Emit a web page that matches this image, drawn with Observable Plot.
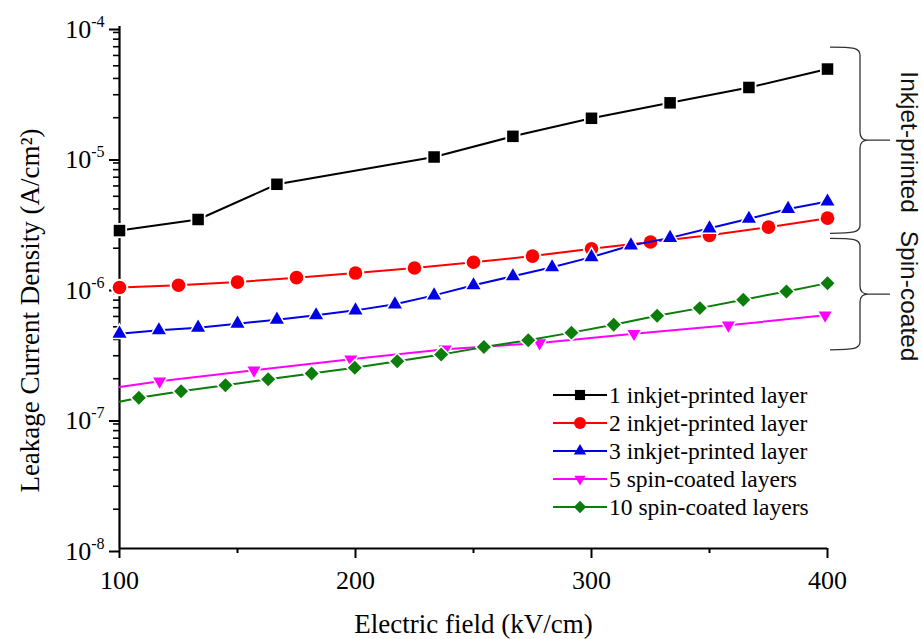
<!DOCTYPE html>
<html>
<head>
<meta charset="utf-8">
<script src="https://cdn.jsdelivr.net/npm/d3@7"></script>
<script src="https://cdn.jsdelivr.net/npm/@observablehq/plot@0.6"></script>
<style>
html, body { margin: 0; padding: 0; background: #fff; }
#chart svg { display: block; }
</style>
</head>
<body>
<div id="chart"></div>
<script>
// ---------- data ----------
const seriesNames = [
  "1 inkjet-printed layer",
  "2 inkjet-printed layer",
  "3 inkjet-printed layer",
  "5 spin-coated layers",
  "10 spin-coated layers"
];

const field1 = [100, 133.3, 166.7, 233.3, 266.7, 300, 333.3, 366.7, 400];
const current1 = [2.73e-6, 3.32e-6, 6.18e-6, 1.0e-5, 1.44e-5, 1.98e-5, 2.6e-5, 3.41e-5, 4.72e-5];

const field2 = [100, 125, 150, 175, 200, 225, 250, 275, 300, 325, 350, 375, 400];
const current2 = [1.0e-6, 1.04e-6, 1.10e-6, 1.19e-6, 1.29e-6, 1.41e-6, 1.56e-6, 1.74e-6, 1.98e-6, 2.23e-6, 2.51e-6, 2.90e-6, 3.40e-6];

const field3 = [100, 116.7, 133.3, 150, 166.7, 183.3, 200, 216.7, 233.3, 250, 266.7, 283.3, 300, 316.7, 333.3, 350, 366.7, 383.3, 400];
const current3 = [4.43e-7, 4.70e-7, 4.92e-7, 5.28e-7, 5.67e-7, 6.12e-7, 6.68e-7, 7.43e-7, 8.7e-7, 1.04e-6, 1.22e-6, 1.43e-6, 1.71e-6, 2.10e-6, 2.40e-6, 2.84e-6, 3.36e-6, 4.0e-6, 4.56e-6];

const field5 = [100, 117, 157, 198, 238, 278, 318, 358, 399];
const current5 = [1.73e-7, 1.91e-7, 2.32e-7, 2.82e-7, 3.36e-7, 3.76e-7, 4.43e-7, 5.13e-7, 6.12e-7];

const field10 = [100, 108.2, 126.1, 144.9, 163.0, 181.4, 199.7, 217.7, 236.3, 254.4, 273.2, 291.5, 309.4, 327.8, 345.9, 364.3, 382.6, 400];
const current10 = [1.33e-7, 1.43e-7, 1.60e-7, 1.78e-7, 1.98e-7, 2.19e-7, 2.43e-7, 2.72e-7, 3.06e-7, 3.50e-7, 3.94e-7, 4.51e-7, 5.19e-7, 6.07e-7, 6.95e-7, 8.07e-7, 9.33e-7, 1.08e-6];

const xTicks = [100, 200, 300, 400];
const xMinorTicks = [150, 250, 350];
const yTicks = [1e-8, 1e-7, 1e-6, 1e-5, 1e-4];
const minorMultipliers = [2, 3, 4, 5, 6, 7, 8, 9];

const xLabel = "Electric field (kV/cm)";
const yLabel = "Leakage Current Density (A/cm²)";

const braceLabels = ["Inkjet-printed", "Spin-coated"];
const braceTop = [6.9e-5, 2.36e-6];
const braceBottom = [2.58e-6, 3.3e-7];

// ---------- styles ----------
const seriesX = [field1, field2, field3, field5, field10];
const seriesY = [current1, current2, current3, current5, current10];
const colors = ["#000000", "#ff0000", "#0000e6", "#ff00ff", "#0a7d0a"];
const symbols = ["square", "circle", "triangle", "triangle", "diamond2"];
const rotations = [0, 0, 0, 180, 0];
const radii = [6.5, 6.8, 5.2, 4.8, 6.3];
const firstMarker = [0, 0, 0, 1, 1];

const rows = seriesNames.flatMap((name, si) =>
  seriesX[si].map((x, i) => ({ name, si, i, x, y: seriesY[si][i] }))
);
const yMinor = yTicks.slice(0, -1).flatMap(d => minorMultipliers.map(m => d * m));

const symbolTypes = {
  square: d3.symbolSquare, circle: d3.symbolCircle,
  triangle: d3.symbolTriangle, diamond2: d3.symbolDiamond2
};

// ---------- custom marks ----------
function legendMark(index, scales, values, dim) {
  const g = d3.create("svg:g");
  const x0 = dim.width - dim.marginRight - 274;
  const y0 = dim.height - dim.marginBottom - 153;
  seriesNames.forEach((name, k) => {
    const yy = y0 + k * 28;
    g.append("line").attr("x1", x0).attr("x2", x0 + 54).attr("y1", yy).attr("y2", yy)
      .attr("stroke", colors[k]).attr("stroke-width", 2);
    const r = radii[k] * 0.88;
    g.append("path")
      .attr("d", d3.symbol(symbolTypes[symbols[k]], Math.PI * r * r)())
      .attr("transform", `translate(${x0 + 27},${yy}) rotate(${rotations[k]})`)
      .attr("fill", colors[k]);
    g.append("text").attr("x", x0 + 56).attr("y", yy).attr("dy", "0.34em")
      .attr("text-anchor", "start")
      .attr("font-size", 23.5).attr("fill", "#000").text(name);
  });
  return g.node();
}

function braceMark(index, scales, values, dim) {
  const g = d3.create("svg:g");
  const right = dim.width - dim.marginRight;
  const x0 = right + 3, x1 = right + 33, x2 = right + 63;
  const r = 8;
  braceLabels.forEach((label, k) => {
    const ya = scales.y(braceTop[k]);
    const yb = scales.y(braceBottom[k]);
    const ym = (ya + yb) / 2;
    const d = `M${x0},${ya} C${x1 - 6},${ya} ${x1},${ya + 1} ${x1},${ya + r}` +
      ` L${x1},${ym - r} C${x1},${ym - 2} ${x1 + 3},${ym} ${x1 + r},${ym} L${x2},${ym}` +
      ` M${x1 + r},${ym} C${x1 + 3},${ym} ${x1},${ym + 2} ${x1},${ym + r}` +
      ` L${x1},${yb - r} C${x1},${yb - 1} ${x1 - 6},${yb} ${x0},${yb}`;
    g.append("path").attr("d", d).attr("fill", "none").attr("stroke", "#333").attr("stroke-width", 1.3);
    g.append("text")
      .attr("transform", `translate(${right + 83},${ym + 2}) rotate(90)`)
      .attr("dy", "0.35em").attr("text-anchor", "middle")
      .attr("font-family", "'Liberation Sans', Arial, sans-serif")
      .attr("font-size", 24.5).attr("fill", "#111").text(label);
  });
  return g.node();
}

// ---------- marks ----------
const seriesMarks = seriesNames.flatMap((name, k) => {
  const lineData = rows.filter(d => d.si === k);
  const dotData = lineData.filter(d => d.i >= firstMarker[k]);
  return [
    Plot.line(lineData, { x: "x", y: "y", stroke: colors[k], strokeWidth: 2 }),
    Plot.dot(dotData, { x: "x", y: "y", symbol: symbols[k], rotate: rotations[k], r: radii[k] + 2, fill: "white" }),
    Plot.dot(dotData, { x: "x", y: "y", symbol: symbols[k], rotate: rotations[k], r: radii[k], fill: colors[k] })
  ];
});

const chart = Plot.plot({
  width: 922,
  height: 639,
  marginLeft: 119,
  marginRight: 95,
  marginTop: 26,
  marginBottom: 91,
  style: { fontFamily: "'Liberation Serif', 'Times New Roman', serif", fontSize: "26px", background: "white", overflow: "visible", color: "#000" },
  x: { domain: [100, 400], label: null },
  y: { type: "log", domain: [1e-8, 1e-4], label: null },
  marks: [
    Plot.axisX({ ticks: xMinorTicks, tickSize: 5, strokeWidth: 2, tickFormat: () => "", label: null }),
    Plot.axisX({ ticks: xTicks, tickSize: 10, tickPadding: 12, strokeWidth: 2, fontSize: 26, tickFormat: d => String(d), label: null }),
    Plot.axisY({ ticks: yMinor, tickSize: 6, strokeWidth: 1.6, tickFormat: () => "", label: null }),
    Plot.axisY({ ticks: yTicks, tickSize: 10, tickPadding: 5, strokeWidth: 2, fontSize: 26, dy: 3,
      tickFormat: d => `10^${Math.round(Math.log10(d))}`, label: null }),
    Plot.ruleX([100], { stroke: "#000", strokeWidth: 2.2 }),
    Plot.ruleY([1e-8], { stroke: "#000", strokeWidth: 2.2 }),
    ...seriesMarks,
    Plot.text([xLabel], { text: d => d, frameAnchor: "bottom", dy: 76, fontSize: 27, lineAnchor: "middle", textAnchor: "middle" }),
    Plot.text([yLabel], { text: d => d, frameAnchor: "left", rotate: -90, dx: -89, dy: 23, fontSize: 27, lineAnchor: "middle", textAnchor: "middle" }),
    legendMark,
    braceMark
  ]
});

// superscript exponents on the log-axis labels
chart.querySelectorAll('g[aria-label="y-axis tick label"] text').forEach(t => {
  const s = t.textContent;
  if (!s.includes("^")) return;
  const [base, exp] = s.split("^");
  t.textContent = base;
  const ts = document.createElementNS("http://www.w3.org/2000/svg", "tspan");
  ts.setAttribute("dy", "-11");
  ts.setAttribute("font-size", "16");
  ts.textContent = exp;
  t.appendChild(ts);
});

document.getElementById("chart").appendChild(chart);
</script>
</body>
</html>
